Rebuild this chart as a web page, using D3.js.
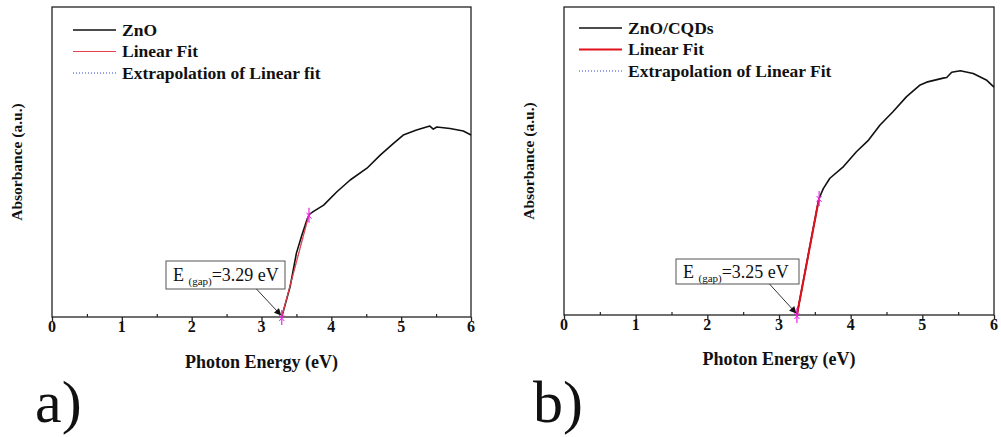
<!DOCTYPE html>
<html>
<head>
<meta charset="utf-8">
<title>Tauc plots ZnO and ZnO/CQDs</title>
<script src="https://d3js.org/d3.v7.min.js"></script>
<style>
  body { margin: 0; background: #fff; }
  svg text { font-family: "Liberation Serif", "Times New Roman", serif; fill: #111; }
  .tick-label { font-size: 16px; font-weight: bold; }
</style>
</head>
<body>
<svg id="chart" width="1001" height="437"></svg>
<script>
// panel a) ZnO
var energyA = [3.29, 3.41, 3.50, 3.58, 3.65, 3.68, 3.74, 3.89, 4.08, 4.27, 4.51, 4.70, 4.89, 5.03, 5.22, 5.41, 5.46, 5.51, 5.70, 5.89, 6.00];
var absA = [0, 0.098, 0.206, 0.265, 0.313, 0.330, 0.340, 0.361, 0.404, 0.442, 0.480, 0.522, 0.560, 0.587, 0.603, 0.616, 0.606, 0.613, 0.608, 0.600, 0.587];
var fitEnergyA = [3.29, 3.68];
var fitAbsA = [0, 0.33];
var gapA = 3.29;

// panel b) ZnO/CQDs
var energyB = [3.25, 3.32, 3.39, 3.46, 3.53, 3.56, 3.62, 3.71, 3.90, 4.08, 4.25, 4.41, 4.59, 4.78, 4.97, 5.06, 5.29, 5.34, 5.41, 5.53, 5.71, 5.90, 6.00];
var absB = [0, 0.087, 0.173, 0.260, 0.346, 0.379, 0.411, 0.444, 0.482, 0.530, 0.568, 0.617, 0.660, 0.709, 0.747, 0.756, 0.769, 0.771, 0.788, 0.793, 0.784, 0.762, 0.740];
var fitEnergyB = [3.25, 3.56];
var fitAbsB = [0, 0.38];
var gapB = 3.25;

var xTicks = [0, 1, 2, 3, 4, 5, 6];
var legendA = ['ZnO', 'Linear Fit', 'Extrapolation of Linear fit'];
var legendB = ['ZnO/CQDs', 'Linear Fit', 'Extrapolation of Linear Fit'];

var panels = [
  { left: 52, right: 471, top: 7, bottom: 317, energy: energyA, abs: absA,
    fitE: fitEnergyA, fitA: fitAbsA, gap: gapA, legend: legendA,
    fitColor: '#e8404a', fitWidth: 1.2, legX: 73, legY: 30,
    box: [166, 261, 119, 28], tag: 'a)', tagX: 35, titleY: 368, tickY: 332 },
  { left: 564, right: 994, top: 7, bottom: 315, energy: energyB, abs: absB,
    fitE: fitEnergyB, fitA: fitAbsB, gap: gapB, legend: legendB,
    fitColor: '#e0101c', fitWidth: 2, legX: 579, legY: 28,
    box: [676, 259, 123, 25], tag: 'b)', tagX: 533, titleY: 365, tickY: 330 }
];

var svg = d3.select('#chart');

var defs = svg.append('defs');
defs.append('marker')
  .attr('id', 'arrow')
  .attr('viewBox', '0 0 10 10')
  .attr('refX', 9).attr('refY', 5)
  .attr('markerWidth', 9).attr('markerHeight', 7)
  .attr('markerUnits', 'userSpaceOnUse')
  .attr('orient', 'auto')
  .append('path').attr('d', 'M0,0L10,5L0,10z').attr('fill', '#111');

panels.forEach(function(p) {
  var x = d3.scaleLinear().domain([0, 6]).range([p.left, p.right]);
  var y = d3.scaleLinear().domain([0, 1]).range([p.bottom, p.top]);
  var g = svg.append('g');

  // frame
  g.append('rect')
    .attr('x', p.left).attr('y', p.top)
    .attr('width', p.right - p.left).attr('height', p.bottom - p.top)
    .attr('fill', 'none').attr('stroke', '#222').attr('stroke-width', 1.3);

  // minor ticks (inside)
  g.append('g')
    .attr('transform', 'translate(0,' + p.bottom + ')')
    .call(d3.axisTop(x).tickValues(d3.range(0.5, 6, 1)).tickSize(3).tickFormat(''))
    .call(function(a) { a.select('.domain').remove(); a.selectAll('line').attr('stroke', '#222').attr('stroke-width', 1.2); });

  // major ticks (outside)
  var ax = g.append('g')
    .attr('transform', 'translate(0,' + p.bottom + ')')
    .call(d3.axisBottom(x).tickValues(xTicks).tickSize(4).tickFormat(''));
  ax.select('.domain').remove();
  ax.selectAll('line').attr('stroke', '#222').attr('stroke-width', 1.3);

  // tick labels
  g.selectAll('.tick-label')
    .data(xTicks)
    .enter().append('text')
    .attr('class', 'tick-label')
    .attr('x', function(d) { return x(d); })
    .attr('y', p.tickY)
    .attr('text-anchor', 'middle')
    .text(function(d) { return d; });

  // axis titles
  g.append('text')
    .attr('x', (p.left + p.right) / 2).attr('y', p.titleY)
    .attr('text-anchor', 'middle').style('font-size', '18px').style('font-weight', 'bold')
    .text('Photon Energy (eV)');
  g.append('text')
    .attr('transform', 'translate(' + (p.left - 30) + ',' + ((p.top + p.bottom) / 2) + ') rotate(-90)')
    .attr('text-anchor', 'middle').style('font-size', '15.5px').style('font-weight', 'bold')
    .text('Absorbance (a.u.)');

  // extrapolation (dotted, under fit)
  g.append('line')
    .attr('x1', x(p.fitE[0])).attr('y1', y(p.fitA[0]))
    .attr('x2', x(p.fitE[1])).attr('y2', y(p.fitA[1]))
    .attr('stroke', '#3040d0').attr('stroke-width', 1).attr('stroke-dasharray', '1,2');

  // data curve
  var line = d3.line().x(function(d, i) { return x(p.energy[i]); }).y(function(d) { return y(d); });
  g.append('path')
    .attr('d', line(p.abs))
    .attr('fill', 'none').attr('stroke', '#111').attr('stroke-width', 1.6).attr('stroke-linejoin', 'round');

  // linear fit
  g.append('line')
    .attr('x1', x(p.fitE[0])).attr('y1', y(p.fitA[0]))
    .attr('x2', x(p.fitE[1])).attr('y2', y(p.fitA[1]))
    .attr('stroke', p.fitColor).attr('stroke-width', p.fitWidth);

  // fit range markers
  p.fitE.forEach(function(e, i) {
    var cx = x(e), cy = y(p.fitA[i]);
    g.append('line')
      .attr('x1', cx).attr('y1', cy - 7).attr('x2', cx).attr('y2', cy + 8)
      .attr('stroke', '#ee22ee').attr('stroke-width', 1.2);
    g.append('path')
      .attr('d', 'M' + (cx - 2.5) + ',' + (cy - 2) + 'L' + cx + ',' + (cy + 1) + 'L' + (cx + 2.5) + ',' + (cy - 2) +
                 'M' + (cx - 2.5) + ',' + (cy + 4) + 'L' + cx + ',' + (cy + 1) + 'L' + (cx + 2.5) + ',' + (cy + 4))
      .attr('fill', 'none').attr('stroke', '#ee22ee').attr('stroke-width', 1);
  });

  // annotation box + arrow
  var b = p.box;
  g.append('rect')
    .attr('x', b[0]).attr('y', b[1]).attr('width', b[2]).attr('height', b[3])
    .attr('fill', '#fff').attr('stroke', '#555').attr('stroke-width', 1);
  var t = g.append('text')
    .attr('x', b[0] + 7).attr('y', b[1] + b[3] / 2 + 6)
    .style('font-size', '18px');
  t.append('tspan').text('E ');
  t.append('tspan').style('font-size', '11px').attr('dy', 4).text('(gap)');
  t.append('tspan').attr('dy', -4).text('=' + p.gap.toFixed(2) + ' eV');
  g.append('line')
    .attr('x1', b[0] + b[2] * 0.76).attr('y1', b[1] + b[3])
    .attr('x2', x(p.gap) - 1).attr('y2', y(0) - 2)
    .attr('stroke', '#333').attr('stroke-width', 1)
    .attr('marker-end', 'url(#arrow)');

  // legend
  var lineStyles = [
    { color: '#111', width: 1.6, dash: null },
    { color: p.fitColor, width: p.fitWidth, dash: null },
    { color: '#3040d0', width: 1, dash: '1,2' }
  ];
  p.legend.forEach(function(label, i) {
    var ly = p.legY + i * 21.5;
    g.append('line')
      .attr('x1', p.legX).attr('x2', p.legX + 43).attr('y1', ly).attr('y2', ly)
      .attr('stroke', lineStyles[i].color).attr('stroke-width', lineStyles[i].width)
      .attr('stroke-dasharray', lineStyles[i].dash);
    g.append('text')
      .attr('x', p.legX + 49).attr('y', ly + 5.5)
      .style('font-size', '17.5px').style('font-weight', 'bold')
      .text(label);
  });

  // panel tag
  g.append('text')
    .attr('x', p.tagX).attr('y', 422)
    .style('font-size', '60px')
    .text(p.tag);
});
</script>
</body>
</html>
